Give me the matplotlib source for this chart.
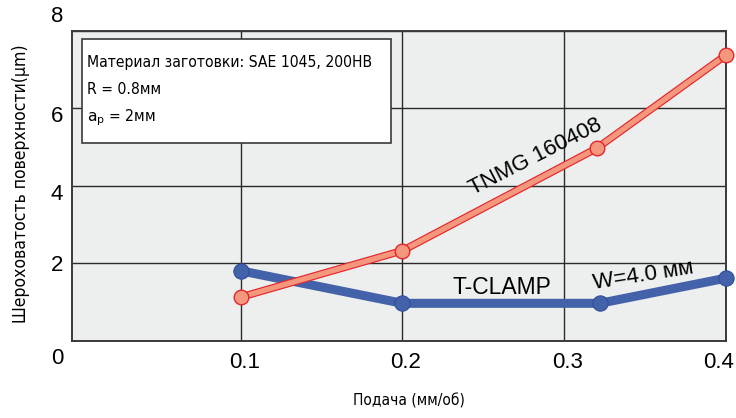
import matplotlib
matplotlib.use("Agg")
import matplotlib.pyplot as plt
import matplotlib.transforms as mtrans
from matplotlib.patches import Rectangle
from matplotlib import font_manager
from matplotlib.ft2font import FT2Font

# data
feed_tclamp = [0.1, 0.2, 0.322, 0.4]
rough_tclamp = [1.80, 0.96, 0.96, 1.61]
feed_tnmg = [0.1, 0.2, 0.32, 0.4]
rough_tnmg = [1.12, 2.32, 4.96, 7.37]

x_ticks = [0.1, 0.2, 0.3, 0.4]
x_labels = ["0.1", "0.2", "0.3", "0.4"]
y_ticks = [2, 4, 6, 8]
y_labels = ["2", "4", "6", "8"]

info_lines = ["Материал заготовки: SAE 1045, 200HB", "R = 0.8мм", r"$\mathrm{a_p}$ = 2мм"]


def has_cyrillic(path):
    try:
        cmap = FT2Font(path).get_charmap()
    except Exception:
        return False
    return all(ord(c) in cmap for c in "ШПМмμ")


# look for a condensed face with cyrillic (reference uses Helvetica Condensed for russian texts)
cond_entry = None
ranked = []
for f in font_manager.fontManager.ttflist:
    if f.style != "normal" or f.weight not in (400, "normal", "regular"):
        continue
    narrowish = f.stretch in ("condensed", "semi-condensed") or "Narrow" in f.name or "Condensed" in f.name
    if narrowish and has_cyrillic(f.fname):
        score = 0 if f.stretch == "condensed" or "Narrow" in f.name else 1
        ranked.append((score, f.fname, f))
if ranked:
    ranked.sort(key=lambda r: (r[0], r[1]))
    cond_entry = ranked[0][2]

if cond_entry is not None:
    cond_fp = font_manager.FontProperties(fname=cond_entry.fname)
    math_family = cond_entry.name
else:
    cond_fp = font_manager.FontProperties(family="Liberation Sans")
    math_family = "Liberation Sans"

plt.rcParams["font.family"] = ["Liberation Sans", "DejaVu Sans"]
plt.rcParams["mathtext.fontset"] = "custom"
plt.rcParams["mathtext.rm"] = math_family

fig = plt.figure(figsize=(7.36, 4.18), dpi=100)
ax = fig.add_axes([0.0974, 0.1854, 0.8890, 0.7412])
ax.set_facecolor("#EDEEEE")

ax.set_xlim(-0.0045, 0.4)
ax.set_ylim(0, 8)
ax.set_xticks(x_ticks)
ax.set_xticklabels(x_labels, fontsize=16)
ax.set_yticks(y_ticks)
ax.set_yticklabels(y_labels, fontsize=16)
ax.tick_params(axis="x", length=0, pad=8)
ax.tick_params(axis="y", length=0, pad=6)
ax.grid(True, color="#2b2b2b", lw=1.0, zorder=1)
ax.set_axisbelow(True)
for s in ax.spines.values():
    s.set_color("#3a3a3a")
    s.set_linewidth(1.4)

# nudge tick labels like the reference
def nudge(lab, dx, dy):
    lab.set_transform(lab.get_transform() + mtrans.ScaledTranslation(dx / 72, dy / 72, fig.dpi_scale_trans))

xl = ax.get_xticklabels()
for lab in xl[:-1]:
    nudge(lab, 2.5, 0)
nudge(xl[-1], -5, 0)
yl = ax.get_yticklabels()
nudge(yl[1], 0, -4.5)
nudge(yl[2], 0, -4.5)
nudge(yl[3], 0, 12)
ax.text(0, 0, "0", transform=ax.transAxes + mtrans.ScaledTranslation(-10.6 / 72, -12.6 / 72, fig.dpi_scale_trans),
        ha="center", va="center", fontsize=16)

# T-CLAMP line
ax.plot(feed_tclamp, rough_tclamp, color="#4462A9", lw=6.5, marker="o", ms=11,
        mfc="#4462A9", mec="#2F4F9C", mew=0.8, solid_capstyle="round", zorder=3, clip_on=False)
# TNMG line: red outline with salmon fill
ax.plot(feed_tnmg, rough_tnmg, color="#E5262C", lw=5.5, zorder=4, solid_capstyle="round", clip_on=False)
ax.plot(feed_tnmg, rough_tnmg, color="#F4977C", lw=3.8, marker="o", ms=10.5,
        mfc="#F4977C", mec="#E5262C", mew=1.0, zorder=5, clip_on=False)

ax.text(0.2825, 4.73, "TNMG 160408", rotation=27, fontsize=16, ha="center", va="center",
        rotation_mode="anchor", zorder=6)
ax.text(0.2615, 1.38, "T-CLAMP", fontsize=16.5, ha="center", va="center", zorder=6)
ax.text(0.349, 1.67, "W=4.0 мм", rotation=9, fontsize=16, ha="center", va="center",
        rotation_mode="anchor", zorder=6)

# info box
ax.add_patch(Rectangle((0.0153, 0.6375), 0.4727, 0.3355, transform=ax.transAxes,
                       facecolor="white", edgecolor="#3a3a3a", lw=1.2, zorder=2))
info_texts = []
for line, yy in zip(info_lines, [0.896, 0.8086, 0.718]):
    info_texts.append(ax.text(0.0234, yy, line, transform=ax.transAxes, fontproperties=cond_fp,
                              fontsize=14.5, ha="left", va="center", zorder=6))

ylab = ax.set_ylabel("Шероховатость поверхности(μm)", fontproperties=cond_fp, fontsize=15)
ax.yaxis.set_label_coords(-0.064, 0.505)
xlab = fig.text(0.556, 0.041, "Подача (мм/об)", fontproperties=cond_fp, fontsize=14,
                ha="center", va="center")

# size the condensed texts so their lengths match the reference
renderer = fig.canvas.get_renderer()
def fit(t, target, vertical=False):
    bb = t.get_window_extent(renderer)
    size = bb.height if vertical else bb.width
    t.set_fontsize(t.get_fontsize() * target / size)

fit(info_texts[0], 285)
for t in info_texts[1:]:
    t.set_fontsize(info_texts[0].get_fontsize())
fit(ylab, 280, vertical=True)
fit(xlab, 112)

fig.savefig("out.png", dpi=100)
